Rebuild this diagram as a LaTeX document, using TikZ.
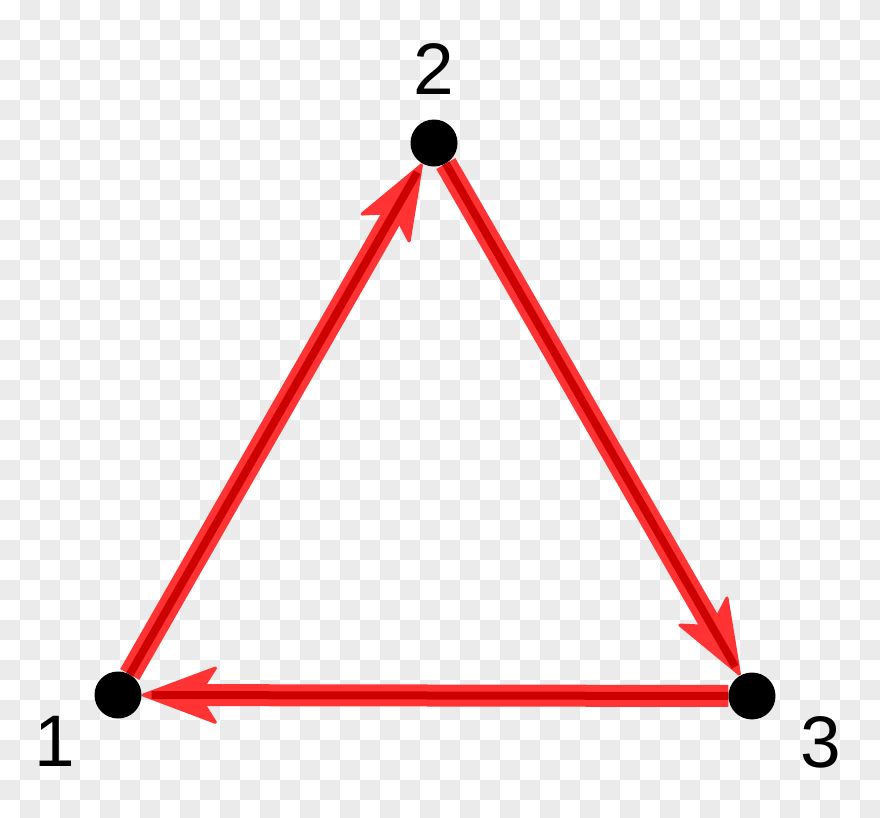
\documentclass[tikz,border=0pt]{standalone}
\usepackage{fontspec}
\setmainfont{Liberation Sans}
\usepackage{tikz}
\usetikzlibrary{arrows.meta,positioning}

\definecolor{edgered}{HTML}{FF3333}
\definecolor{edgedark}{HTML}{CC0000}
\definecolor{checkgray}{HTML}{EBEBEB}

\pgfdeclarelayer{checks}
\pgfdeclarelayer{links}
\pgfsetlayers{checks,links,main}

\begin{document}
\begin{tikzpicture}[x=1pt,y=-1pt,
    >={Stealth[length=80pt,width=60pt,inset=19pt,line width=3pt,round]},
    dot/.style={circle,fill=black,minimum size=47pt,inner sep=0pt},
    lbl/.style={inner sep=0pt,font=\fontsize{73}{80}\selectfont},
    flow/.style={->,draw=edgered,line width=22pt,
      postaction={draw=edgedark,line width=8pt,-,shorten >=10pt}}]

    \useasboundingbox (0,0) rectangle (880,817);

    % transparent backdrop
    \begin{pgfonlayer}{checks}
      \clip (0,0) rectangle (880,817);
      \fill[white] (0,0) rectangle (880,817);
      \foreach \i in {1,3,...,43}
        \foreach \j in {0,2,...,40}
          \fill[checkgray] (\i*20,\j*20) rectangle +(20,20);
      \foreach \i in {0,2,...,42}
        \foreach \j in {1,3,...,39}
          \fill[checkgray] (\i*20,\j*20) rectangle +(20,20);
    \end{pgfonlayer}

    \node[dot] (1) at (118,695) {};
    \node[dot] (2) at (434,143) {};
    \node[dot] (3) at (752,696) {};

    \node[lbl] (l1) at (55,741) {1};
    \node[lbl] (l2) at (434,69) {2};
    \node[lbl] (l3) at (821,742) {3};

    \begin{pgfonlayer}{links}
      \path (1) edge[flow] (2)
            (2) edge[flow] (3)
            (3) edge[flow] (1);
    \end{pgfonlayer}
\end{tikzpicture}
\end{document}
